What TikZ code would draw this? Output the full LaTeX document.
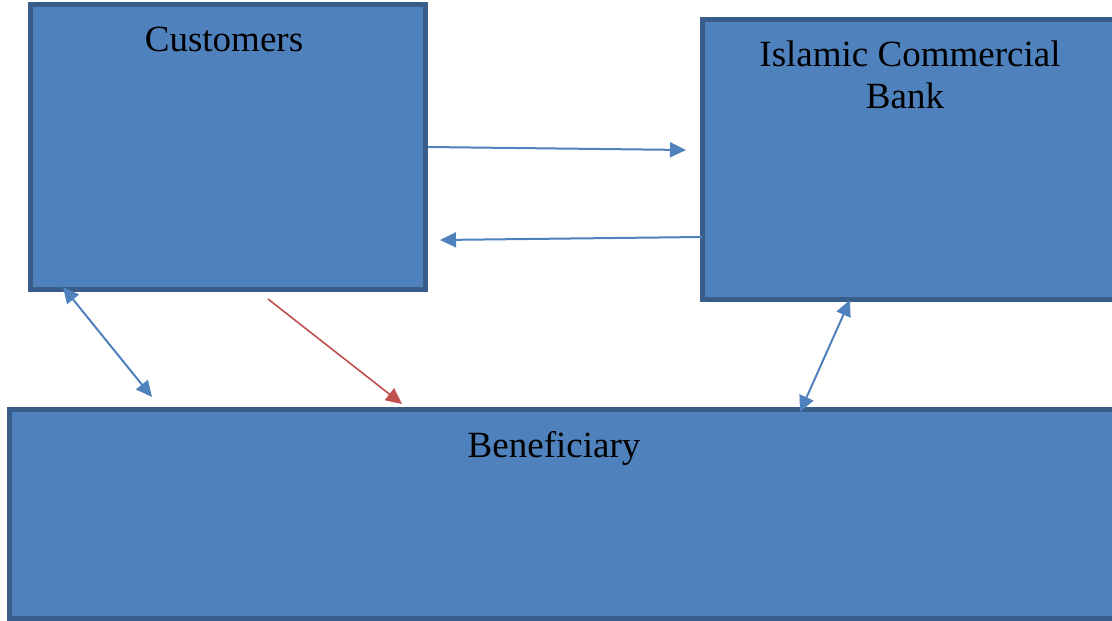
\documentclass[tikz,border=0pt]{standalone}
\usepackage{fontspec}
\setmainfont{Liberation Serif}
\usetikzlibrary{arrows.meta}
\definecolor{boxfill}{HTML}{4F81BD}
\definecolor{boxline}{HTML}{385D8A}
\definecolor{redline}{HTML}{C0504D}
\tikzset{
  box/.style={draw=boxline, fill=boxfill, line width=5pt, inner sep=0pt},
  lbl/.style={anchor=base, inner sep=0pt, font=\fontsize{37}{42}\selectfont},
  tip/.style={},
  conn/.style={draw=boxfill, line width=2pt, -{Triangle[length=16pt,width=15pt]}},
  dconn/.style={draw=boxfill, line width=2pt, {Triangle[length=16pt,width=15pt]}-{Triangle[length=16pt,width=15pt]}},
  rconn/.style={draw=redline, line width=1.6pt, -{Triangle[length=16pt,width=15pt]}}
}
\begin{document}
\begin{tikzpicture}[x=1pt,y=-1pt]
\useasboundingbox (0,0) rectangle (1112,621);
\clip (0,0) rectangle (1112,621);
\fill[white] (0,0) rectangle (1112,621);
\node[box, minimum width=395pt, minimum height=285pt] (cust) at (228,147) {};
\node[box, minimum width=421pt, minimum height=280pt] (bank) at (913,159.5) {};
\node[box, minimum width=1120.5pt, minimum height=209pt] (ben) at (569.75,514) {};
\node[lbl] (custt) at (224,51) {Customers};
\node[lbl] (bankt1) at (910,66) {Islamic Commercial};
\node[lbl] (bankt2) at (905,108) {Bank};
\node[lbl] (bent) at (554,457) {Beneficiary};
\coordinate (a1s) at (428,147);
\coordinate (a1e) at (686,150);
\coordinate (a2s) at (702,237);
\coordinate (a2e) at (440,240);
\coordinate (a3s) at (63,287);
\coordinate (a3e) at (152,397);
\coordinate (a4s) at (268,299);
\coordinate (a4e) at (402,404);
\coordinate (a5s) at (850,300);
\coordinate (a5e) at (800,412);
\draw[conn] (a1s) -- (a1e);
\draw[conn] (a2s) -- (a2e);
\draw[dconn] (a3s) -- (a3e);
\draw[rconn] (a4s) -- (a4e);
\draw[dconn] (a5s) -- (a5e);
\end{tikzpicture}
\end{document}
